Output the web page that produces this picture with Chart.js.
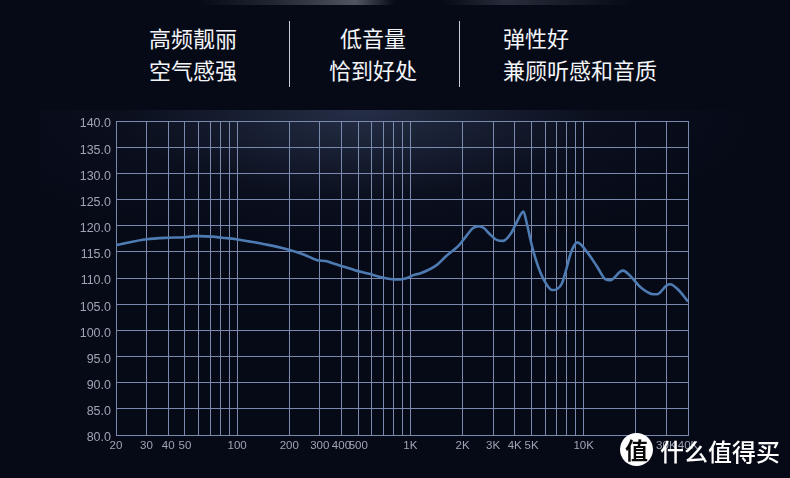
<!DOCTYPE html>
<html>
<head>
<meta charset="utf-8">
<script src="https://cdn.jsdelivr.net/npm/chart.js@4/dist/chart.umd.min.js"></script>
<style>
  html, body { margin: 0; padding: 0; }
  body { width: 790px; height: 478px; overflow: hidden; background: #060a17; position: relative;
         font-family: "Noto Sans CJK SC", "Noto Sans", sans-serif; }
  #glow { position: absolute; left: 40px; top: 110px; width: 730px; height: 150px;
          background: radial-gradient(ellipse 55% 100% at 44% 0%, rgba(50,62,90,0.7), rgba(20,26,44,0.3) 60%, rgba(6,10,23,0) 100%); }
  #topstrip { position: absolute; left: 0; top: 0; width: 790px; height: 5px;
          background: linear-gradient(90deg, rgba(0,0,0,0) 25%, rgba(120,125,140,0.25) 35%, rgba(170,175,185,0.45) 45%, rgba(0,0,0,0) 50%, rgba(0,0,0,0) 56%, rgba(120,125,140,0.3) 64%, rgba(0,0,0,0) 80%); }
  .hd { position: absolute; color: #f4f5f8; font-size: 22px; line-height: 32px; white-space: nowrap; font-weight: 400; }
  .sep { position: absolute; top: 21px; width: 1px; height: 66px; background: #c8ccd4; }
  #wrap { position: absolute; left: 0; top: 0; width: 790px; height: 478px; }
  #logoC { position: absolute; left: 620px; top: 433px; width: 33px; height: 33px; border-radius: 50%;
           background: #ffffff; color: #0a0a0a; font-size: 23px; font-weight: 700; line-height: 33px; text-align: center; }
  #logoT { position: absolute; left: 660px; top: 433px; color: #ffffff; font-size: 24px; line-height: 36px; font-weight: 500; white-space: nowrap; }
</style>
</head>
<body>
<div id="glow"></div>
<div id="topstrip"></div>
<div class="hd" style="left:149px; top:21px;">高频靓丽<br>空气感强</div>
<div class="sep" style="left:289px;"></div>
<div class="hd" style="left:293px; width:160px; top:21px; text-align:center;">低音量<br>恰到好处</div>
<div class="sep" style="left:459px;"></div>
<div class="hd" style="left:503px; top:21px;">弹性好<br>兼顾听感和音质</div>
<div id="wrap"><canvas id="c" width="790" height="478"></canvas></div>
<div id="logoC">值</div>
<div id="logoT">什么值得买</div>
<script>
const freqs = [20,30,40,50,56,60,72,82,99,117,147,194,242,290,330,357,383,478,578,668,764,860,957,1050,1145,1424,1610,1912,2100,2290,2480,2665,2850,3145,3430,3800,4070,4340,4490,4700,4990,5260,5650,6120,6570,7040,7500,7970,8410,8850,9180,10440,11940,13320,14250,16260,16860,18570,21200,25300,26500,30200,31500,35250,40000];
const spl = [116.3,117.4,117.7,117.8,118.0,118.0,117.9,117.7,117.4,117.0,116.4,115.5,114.5,113.4,113.2,112.8,112.5,111.5,110.8,110.2,109.8,109.7,110.0,110.6,110.9,112.5,114.2,116.3,118.0,119.5,119.9,119.5,118.5,117.3,117.1,118.5,120.4,122.2,122.7,120.4,116.6,113.8,110.9,108.7,107.7,107.9,109.0,111.9,114.7,116.3,116.8,115.0,112.2,109.8,109.6,111.2,111.4,110.4,108.3,106.9,106.9,108.6,108.8,107.7,105.5];
const xTicks = [20,30,40,50,60,70,80,90,100,200,300,400,500,600,700,800,900,1000,2000,3000,4000,5000,6000,7000,8000,9000,10000,20000,30000,40000];
const xLabels = {20:'20',30:'30',40:'40',50:'50',100:'100',200:'200',300:'300',400:'400',500:'500',1000:'1K',2000:'2K',3000:'3K',4000:'4K',5000:'5K',10000:'10K',20000:'20K',30000:'30K',40000:'40K'};
const yMin = 80, yMax = 140, yStep = 5;

const gridColor = '#7a8aae';
const labelColor = '#9ea4b3';
const yFont = { family: "'Liberation Sans Narrow', 'Liberation Sans', sans-serif", size: 12.5 };
const xFont = { family: "'Liberation Sans Narrow', 'Liberation Sans', sans-serif", size: 11.5 };

new Chart(document.getElementById('c'), {
  type: 'line',
  data: {
    datasets: [{
      data: freqs.map((f, i) => ({ x: f, y: spl[i] })),
      borderColor: '#4d7bb2',
      borderWidth: 2.6,
      pointRadius: 0,
      fill: false,
      cubicInterpolationMode: 'monotone'
    }]
  },
  options: {
    responsive: false,
    animation: false,
    devicePixelRatio: 1,
    layout: { padding: { left: 0, top: 121, right: 102, bottom: 0 } },
    plugins: { legend: { display: false }, tooltip: { enabled: false } },
    scales: {
      x: {
        type: 'logarithmic',
        min: 20, max: 40000,
        afterBuildTicks: (s) => { s.ticks = xTicks.map(v => ({ value: v })); },
        afterFit: (s) => { s.height = 43; },
        grid: { color: gridColor, lineWidth: 1, drawTicks: false },
        border: { color: gridColor },
        ticks: {
          autoSkip: false, maxRotation: 0, minRotation: 0, padding: 4,
          color: labelColor, font: xFont,
          callback: (v) => xLabels[v] || ''
        }
      },
      y: {
        min: yMin, max: yMax,
        afterFit: (s) => { s.width = 116; },
        grid: { color: gridColor, lineWidth: 1, drawTicks: false },
        border: { color: gridColor },
        ticks: {
          stepSize: yStep, padding: 5, labelOffset: 3, color: labelColor, font: yFont,
          callback: (v) => Number(v).toFixed(1)
        }
      }
    }
  }
});
</script>
</body>
</html>
